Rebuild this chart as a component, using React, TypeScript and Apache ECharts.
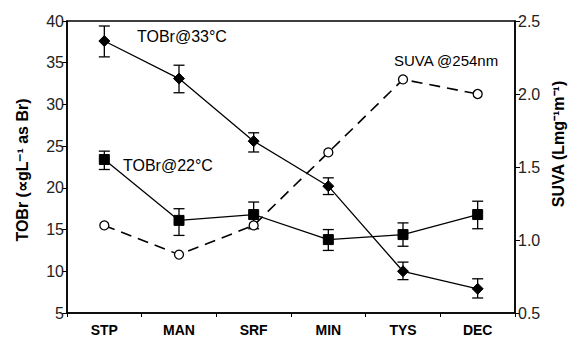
import React, { useEffect, useRef } from "react";
import * as echarts from "echarts";

const categories = ["STP", "MAN", "SRF", "MIN", "TYS", "DEC"];
const tobr33 = [37.6, 33.1, 25.6, 20.2, 10.0, 7.9];
const tobr33Low = [35.7, 31.4, 24.3, 19.2, 9.0, 6.8];
const tobr33High = [39.4, 34.7, 26.6, 21.2, 11.1, 9.1];
const tobr22 = [23.4, 16.1, 16.8, 13.8, 14.4, 16.8];
const tobr22Low = [22.2, 14.3, 15.1, 12.5, 13.0, 15.1];
const tobr22High = [24.4, 17.5, 18.3, 15.0, 15.8, 18.4];
const suva = [1.1, 0.9, 1.1, 1.6, 2.1, 2.0];
const leftTicks = { min: 5, max: 40, interval: 5 };
const rightTicks = { min: 0.5, max: 2.5, interval: 0.5 };

const FONT = "'Liberation Sans', Arial, sans-serif";

function errorSeries(low: number[], high: number[]) {
  return {
    type: "custom",
    yAxisIndex: 0,
    z: 3,
    data: low.map((l, i) => [i, l, high[i]]),
    encode: { x: 0, y: [1, 2] },
    renderItem: (params: any, api: any) => {
      const x = api.value(0);
      const lo = api.coord([x, api.value(1)]);
      const hi = api.coord([x, api.value(2)]);
      const w = 5.5;
      const style = { stroke: "#000", lineWidth: 1.3 };
      return {
        type: "group",
        children: [
          { type: "line", shape: { x1: lo[0], y1: lo[1], x2: hi[0], y2: hi[1] }, style },
          { type: "line", shape: { x1: lo[0] - w, y1: lo[1], x2: lo[0] + w, y2: lo[1] }, style },
          { type: "line", shape: { x1: hi[0] - w, y1: hi[1], x2: hi[0] + w, y2: hi[1] }, style },
        ],
      };
    },
  };
}

export default function App() {
  const ref = useRef<HTMLDivElement>(null);
  useEffect(() => {
    const chart = echarts.init(ref.current!, null, { renderer: "svg" });
    const axisLine = { show: true, lineStyle: { color: "#000", width: 1.5 } };
    chart.setOption({
      animation: false,
      backgroundColor: "#fff",
      grid: { left: 67, right: 58, top: 21, bottom: 30, show: true, borderColor: "#000", borderWidth: 1.5, backgroundColor: "transparent" },
      xAxis: {
        type: "category",
        data: categories,
        boundaryGap: true,
        axisLine,
        axisTick: { show: true, inside: false, length: 4, alignWithLabel: false, lineStyle: { color: "#000" } },
        axisLabel: { color: "#000", fontFamily: FONT, fontWeight: "bold", fontSize: 14, margin: 10 },
        splitLine: { show: false },
      },
      yAxis: [
        {
          type: "value",
          ...leftTicks,
          position: "left",
          axisLine,
          axisTick: { show: true, length: 5, lineStyle: { color: "#000" } },
          axisLabel: { color: "#222", fontFamily: FONT, fontSize: 16, margin: 3 },
          splitLine: { show: false },
        },
        {
          type: "value",
          ...rightTicks,
          position: "right",
          axisLine,
          axisTick: { show: true, length: 5, lineStyle: { color: "#000" } },
          axisLabel: { color: "#222", fontFamily: FONT, fontSize: 16, margin: 3, formatter: (v: number) => v.toFixed(1) },
          splitLine: { show: false },
        },
      ],
      graphic: [
        { type: "text", left: 137, top: 28, style: { text: "TOBr@33°C", fontFamily: FONT, fontSize: 16, fill: "#000" } },
        { type: "text", left: 394, top: 53, style: { text: "SUVA @254nm", fontFamily: FONT, fontSize: 15, fill: "#000" } },
        { type: "text", left: 123, top: 157, style: { text: "TOBr@22°C", fontFamily: FONT, fontSize: 16, fill: "#000" } },
        {
          type: "text",
          x: 22,
          y: 170,
          rotation: Math.PI / 2,
          style: { text: "TOBr (∝gL⁻¹ as Br)", fontFamily: FONT, fontWeight: "bold", fontSize: 16, fill: "#000", align: "center", verticalAlign: "middle" },
        },
        {
          type: "text",
          x: 558,
          y: 144,
          rotation: Math.PI / 2,
          style: { text: "SUVA (Lmg⁻¹m⁻¹)", fontFamily: FONT, fontWeight: "bold", fontSize: 16, fill: "#000", align: "center", verticalAlign: "middle" },
        },
      ],
      series: [
        errorSeries(tobr33Low, tobr33High),
        errorSeries(tobr22Low, tobr22High),
        {
          type: "line",
          name: "TOBr@33",
          yAxisIndex: 0,
          data: tobr33,
          symbol: "diamond",
          symbolSize: 11,
          z: 4,
          lineStyle: { color: "#000", width: 1.3 },
          itemStyle: { color: "#000", borderColor: "#000" },
        },
        {
          type: "line",
          name: "TOBr@22",
          yAxisIndex: 0,
          data: tobr22,
          symbol: "rect",
          symbolSize: 10,
          z: 4,
          lineStyle: { color: "#000", width: 1.3 },
          itemStyle: { color: "#000", borderColor: "#000" },
        },
        {
          type: "line",
          name: "SUVA",
          yAxisIndex: 1,
          data: suva,
          symbol: "circle",
          symbolSize: 9,
          showSymbol: true,
          z: 4,
          lineStyle: { color: "#000", width: 1.6, type: [11, 7] },
          itemStyle: { color: "#fff", borderColor: "#000", borderWidth: 1.3 },
        },
      ],
    });
    return () => chart.dispose();
  }, []);
  return <div ref={ref} style={{ width: 573, height: 343, position: "absolute", left: 0, top: 0 }} />;
}
